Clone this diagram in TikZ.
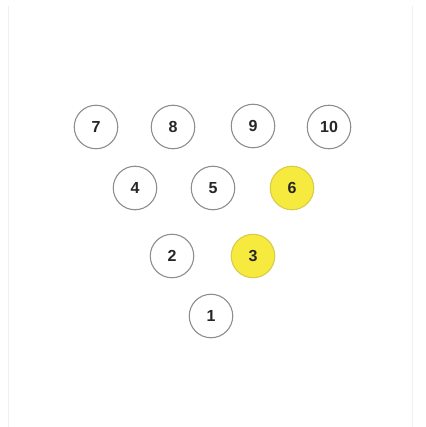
\documentclass[tikz,border=0pt]{standalone}
\usepackage{fontspec}
\setmainfont{Liberation Sans}
\definecolor{pinStroke}{HTML}{8E8E8E}
\definecolor{hitFill}{HTML}{F6EA3E}
\definecolor{hitStroke}{HTML}{D9CC4A}
\definecolor{frameStroke}{HTML}{F0F0F0}
\begin{document}
\begin{tikzpicture}[
  x=1pt,y=-1pt,
  font=\fontsize{16}{16}\selectfont\bfseries,
  pin/.style={circle,line width=1.1pt,minimum size=43.5pt,inner sep=0pt,align=center,text=black!85},
  standing/.style={pin,draw=pinStroke,fill=white},
  hit/.style={pin,draw=hitStroke,fill=hitFill}
]
\useasboundingbox (0,0) rectangle (425,427);
% faint frame of the page
\draw[frameStroke,line width=1pt] (8,6) -- (8,427);
\draw[frameStroke,line width=1pt] (412,6) -- (412,427);

% back row
\node[standing] (pin7) at (96,127) {7};
\node[standing] (pin8) at (173,127) {8};
\node[standing] (pin9) at (253,126) {9};
\node[standing] (pin10) at (329,127) {10};
% third row
\node[standing] (pin4) at (135,188) {4};
\node[standing] (pin5) at (213,188) {5};
\node[hit] (pin6) at (292,188) {6};
% second row
\node[standing] (pin2) at (172,256) {2};
\node[hit] (pin3) at (253,256) {3};
% head pin
\node[standing] (pin1) at (211,316) {1};
\end{tikzpicture}
\end{document}
